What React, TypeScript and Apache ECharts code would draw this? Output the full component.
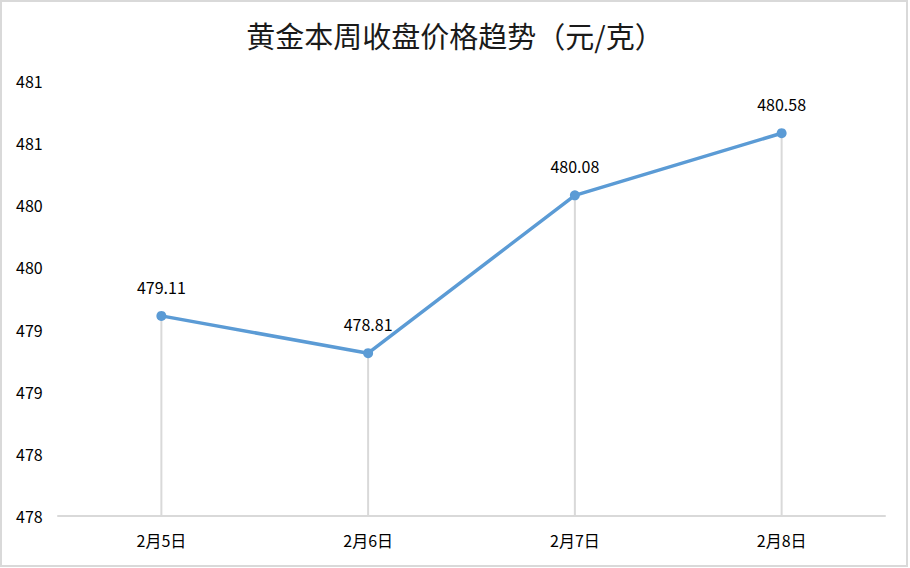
import React, { useEffect, useRef } from "react";
import * as echarts from "echarts";

const categories = ["2月5日", "2月6日", "2月7日", "2月8日"];
const prices = [479.11, 478.81, 480.08, 480.58];
const titleText = "黄金本周收盘价格趋势（元/克）";
const yMin = 477.5;
const yMax = 481;
const yInterval = 0.5;

const FONT = "'Noto Sans CJK SC', 'Noto Sans', sans-serif";

export default function App() {
  const ref = useRef<HTMLDivElement>(null);
  useEffect(() => {
    document.body.style.margin = "0";
    const chart = echarts.init(ref.current!, null, { renderer: "svg" });
    chart.setOption({
      animation: false,
      backgroundColor: "#fff",
      title: {
        text: titleText,
        left: "center",
        top: 15,
        textStyle: { fontFamily: FONT, fontSize: 29, fontWeight: "normal", color: "#1a1a1a" },
      },
      graphic: [
        {
          type: "rect",
          shape: { x: 1, y: 1, width: 906, height: 565 },
          style: { fill: "none", stroke: "#d9d9d9", lineWidth: 2 },
          silent: true,
        },
      ],
      grid: { left: 58, right: 25, top: 81, bottom: 52, containLabel: false },
      xAxis: {
        type: "category",
        data: categories,
        boundaryGap: true,
        axisLine: { lineStyle: { color: "#d9d9d9", width: 2 } },
        axisTick: { show: false },
        axisLabel: { fontFamily: FONT, fontSize: 16, color: "#000", margin: 16 },
      },
      yAxis: {
        type: "value",
        min: yMin,
        max: yMax,
        interval: yInterval,
        axisLine: { show: false },
        axisTick: { show: false },
        splitLine: { show: false },
        axisLabel: {
          fontFamily: FONT,
          fontSize: 16,
          color: "#000",
          align: "left",
          margin: 42,
          formatter: (v: number) => String(Math.round(v)),
        },
      },
      series: [
        {
          type: "bar",
          data: prices,
          barWidth: 2,
          itemStyle: { color: "#d9d9d9" },
          silent: true,
          z: 1,
        },
        {
          type: "line",
          data: prices,
          symbol: "circle",
          symbolSize: 10,
          lineStyle: { color: "#5b9bd5", width: 3.5 },
          itemStyle: { color: "#5b9bd5" },
          z: 3,
          label: {
            show: true,
            position: "top",
            distance: 16,
            fontFamily: FONT,
            fontSize: 16,
            color: "#000",
            formatter: (p: any) => p.value.toFixed(2),
          },
        },
      ],
    });
    return () => chart.dispose();
  }, []);
  return <div ref={ref} style={{ width: 910, height: 568 }} />;
}
